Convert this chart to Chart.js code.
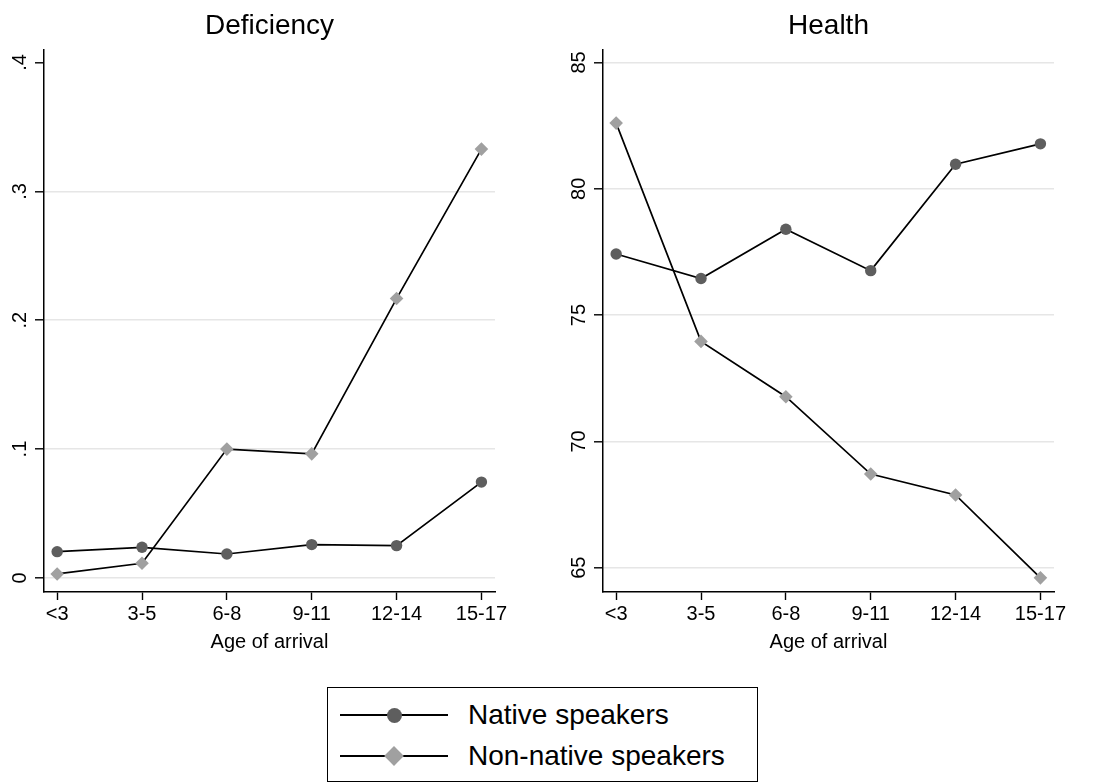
<!DOCTYPE html>
<html>
<head>
<meta charset="utf-8">
<script src="https://cdn.jsdelivr.net/npm/chart.js@4.4.1/dist/chart.umd.min.js"></script>
<style>
    body { margin: 0; background: #fff; width: 1101px; height: 783px; overflow: hidden; position: relative;
           font-family: "Liberation Sans", Arial, sans-serif; }
    .panel { position: absolute; top: 0; }
    #left { left: 0; }
    #right { left: 559px; }
    #legend { position: absolute; left: 327px; top: 687px; width: 429px; height: 93px;
              border: 1.3px solid #000; box-sizing: content-box; }
    .item { position: absolute; left: 0; width: 100%; height: 0; }
    .item .ln { position: absolute; left: 12px; width: 108px; top: -1px; height: 2px; background: #000; }
    .item .mk { position: absolute; }
    .item .mk.circle { left: 59px; top: -7.5px; width: 15px; height: 15px; border-radius: 50%; background: #5e5e5e; }
    .item .mk.diamond { left: 59px; top: -7px; width: 14px; height: 14px; background: #a0a0a0; transform: rotate(45deg); }
    .item .tx { position: absolute; left: 140px; top: -17px; font-size: 28px; line-height: 34px; color: #000; white-space: nowrap; }
</style>
</head>
<body>
<canvas id="left" class="panel" width="520" height="654"></canvas>
<canvas id="right" class="panel" width="520" height="654"></canvas>
<div id="legend"></div>
<script>
const ageGroups = ['<3', '3-5', '6-8', '9-11', '12-14', '15-17'];
const seriesNames = ['Native speakers', 'Non-native speakers'];

const deficiencyNative = [0.0204, 0.0238, 0.0186, 0.0259, 0.0251, 0.0744];
const deficiencyNonNative = [0.0031, 0.0114, 0.1000, 0.0963, 0.2168, 0.3328];
const deficiencyTicks = [0, 0.1, 0.2, 0.3, 0.4];
const deficiencyTickLabels = ['0', '.1', '.2', '.3', '.4'];

const healthNative = [77.42, 76.45, 78.40, 76.76, 80.97, 81.78];
const healthNonNative = [82.60, 73.96, 71.77, 68.71, 67.88, 64.60];
const healthTicks = [65, 70, 75, 80, 85];
const healthTickLabels = ['65', '70', '75', '80', '85'];

const FONT = '"Liberation Sans", Arial, sans-serif';

// y tick labels in Stata are turned 90 degrees, so draw them here
const rotatedYLabels = {
    id: 'rotatedYLabels',
    afterDraw(chart, args, opts) {
        const sc = chart.scales.y;
        const ctx = chart.ctx;
        ctx.save();
        ctx.font = '20px ' + FONT;
        ctx.fillStyle = '#000';
        ctx.textAlign = 'center';
        ctx.textBaseline = 'alphabetic';
        sc.ticks.forEach((t, i) => {
            const y = sc.getPixelForValue(t.value);
            ctx.save();
            ctx.translate(sc.right - 18, y);
            ctx.rotate(-Math.PI / 2);
            ctx.fillText(opts.labels[i], 0, 0);
            ctx.restore();
        });
        ctx.restore();
    }
};

function makePanel(id, title, native, nonNative, yMin, yMax, ticks, tickLabels, noGridAt) {
    const pts = arr => arr.map((v, i) => ({ x: i, y: v }));
    return new Chart(document.getElementById(id), {
        type: 'line',
        data: {
            datasets: [
                {
                    label: seriesNames[0],
                    data: pts(native),
                    borderColor: '#000',
                    borderWidth: 1.7,
                    pointStyle: 'circle',
                    pointRadius: 5.7,
                    pointBackgroundColor: '#5e5e5e',
                    pointBorderWidth: 0
                },
                {
                    label: seriesNames[1],
                    data: pts(nonNative),
                    borderColor: '#000',
                    borderWidth: 1.7,
                    pointStyle: 'rectRot',
                    pointRadius: 6.8,
                    pointBackgroundColor: '#a0a0a0',
                    pointBorderWidth: 0
                }
            ]
        },
        plugins: [rotatedYLabels],
        options: {
            responsive: false,
            animation: false,
            layout: { padding: { left: 0, right: 25, top: 0, bottom: 0 } },
            plugins: {
                legend: { display: false },
                tooltip: { enabled: false },
                title: {
                    display: true,
                    text: title,
                    fullSize: false,
                    color: '#000',
                    font: { family: FONT, size: 28, weight: 'normal' },
                    padding: { top: 9, bottom: 7 }
                },
                rotatedYLabels: { labels: tickLabels }
            },
            scales: {
                x: {
                    type: 'linear',
                    min: -0.155,
                    max: 5.16,
                    afterBuildTicks: s => { s.ticks = ageGroups.map((_, i) => ({ value: i })); },
                    afterFit: s => { s.height = 62; },
                    ticks: {
                        callback: v => ageGroups[v],
                        autoSkip: false,
                        maxRotation: 0,
                        color: '#000',
                        padding: 2,
                        font: { family: FONT, size: 20 }
                    },
                    grid: { display: true, drawOnChartArea: false, tickLength: 8, tickColor: '#000', tickWidth: 1.4 },
                    border: { color: '#000', width: 1.5 },
                    title: {
                        display: true,
                        text: 'Age of arrival',
                        color: '#000',
                        font: { family: FONT, size: 20 },
                        padding: { top: 0, bottom: 0 }
                    }
                },
                y: {
                    type: 'linear',
                    min: yMin,
                    max: yMax,
                    afterBuildTicks: s => { s.ticks = ticks.map(v => ({ value: v })); },
                    afterFit: s => { s.width = 44; },
                    ticks: { display: false },
                    grid: {
                        color: c => (c.tick && c.tick.value === noGridAt) ? 'rgba(0,0,0,0)' : '#e6e6e6',
                        lineWidth: 1.6,
                        tickLength: 9,
                        tickColor: '#000',
                        tickWidth: 1.4
                    },
                    border: { color: '#000', width: 1.5 }
                }
            }
        }
    });
}

makePanel('left', 'Deficiency', deficiencyNative, deficiencyNonNative, -0.0109, 0.41,
    deficiencyTicks, deficiencyTickLabels, 0.4);
makePanel('right', 'Health', healthNative, healthNonNative, 64.04, 85.51,
    healthTicks, healthTickLabels, null);

// legend
const legend = document.getElementById('legend');
seriesNames.forEach((name, i) => {
    const it = document.createElement('div');
    it.className = 'item';
    it.style.top = (27 + i * 41) + 'px';
    it.innerHTML = '<div class="ln"></div><div class="mk ' + (i === 0 ? 'circle' : 'diamond') + '"></div>';
    const tx = document.createElement('div');
    tx.className = 'tx';
    tx.textContent = name;
    it.appendChild(tx);
    legend.appendChild(it);
});
</script>
</body>
</html>
